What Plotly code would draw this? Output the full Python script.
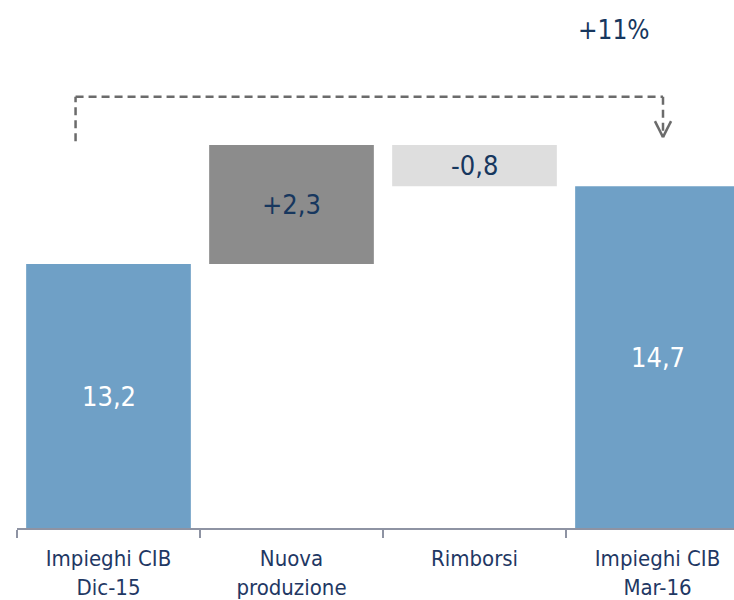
import plotly.graph_objects as go

categories = ["Impieghi CIB<br>Dic-15", "Nuova<br>produzione", "Rimborsi", "Impieghi CIB<br>Mar-16"]
values = [13.2, 2.3, -0.8, 14.7]
kinds = ["total", "delta", "delta", "total"]
labels = ["13,2", "+2,3", "-0,8", "14,7"]
growth_label = "+11%"

colors = ["#6fa0c6", "#8c8c8c", "#dedede", "#6fa0c6"]
label_colors = ["white", "#17375e", "#17375e", "white"]
FONT = "DejaVu Sans Condensed, Liberation Sans Narrow, Roboto Condensed, Noto Sans, sans-serif"

y_lo, y_hi = 8.1, 18.3

# bases for the waterfall
bases = []
running = 0
for v, k in zip(values, kinds):
    if k == "total":
        bases.append(0)
        running = v
    else:
        bases.append(running)
        running += v

fig = go.Figure(go.Bar(
    x=categories, y=values, base=bases,
    marker=dict(color=colors, line=dict(width=0)),
    width=0.9, showlegend=False, hoverinfo="skip",
))

# value labels at the middle of the visible part of each bar
for i, (c, v, b) in enumerate(zip(categories, values, bases)):
    lo, hi = sorted([max(b, y_lo), b + v])
    fig.add_annotation(x=c, y=(lo + hi) / 2, text=labels[i], showarrow=False,
                       font=dict(family=FONT, size=27, color=label_colors[i]))

# dashed bracket from first to last bar
x_l, x_r = -0.18, 3.03
y_top, y_left_end, y_tip = 16.43, 15.57, 15.65
line_style = dict(color="#6b6b6b", width=2.5, dash="8px,5px")
fig.add_shape(type="line", x0=x_l, x1=x_l, y0=y_left_end, y1=y_top, xref="x", yref="y", line=line_style)
fig.add_shape(type="line", x0=x_l, x1=x_r, y0=y_top, y1=y_top, xref="x", yref="y", line=line_style)
fig.add_shape(type="line", x0=x_r, x1=x_r, y0=y_top, y1=y_tip, xref="x", yref="y", line=line_style)
for dx in (-0.044, 0.044):
    fig.add_shape(type="line", x0=x_r + dx, x1=x_r, y0=y_tip + 0.31, y1=y_tip, xref="x", yref="y",
                  line=dict(color="#6b6b6b", width=2.5))

fig.add_annotation(x=2.76, y=17.72, text=growth_label, showarrow=False,
                   font=dict(family=FONT, size=26, color="#17375e"))

fig.update_layout(
    width=734, height=600,
    margin=dict(l=17, r=0, t=0, b=69),
    paper_bgcolor="white", plot_bgcolor="white",
    bargap=0.1,
    font=dict(family=FONT, size=22, color="#1f3864"),
    xaxis=dict(type="category", range=[-0.5, 3.418], tickson="boundaries",
               ticks="outside", ticklen=8, tickwidth=2, tickcolor="#8e93a3",
               showline=True, linecolor="#8e93a3", linewidth=2,
               showgrid=False, ticklabelstandoff=10),
    yaxis=dict(range=[y_lo, y_hi], visible=False, showgrid=False, zeroline=False),
)

# drop the default page margin so the chart fills the window
fig.write_html("out.html", config={"displayModeBar": False},
               post_script="document.body.style.margin='0';document.body.style.overflow='hidden';")
